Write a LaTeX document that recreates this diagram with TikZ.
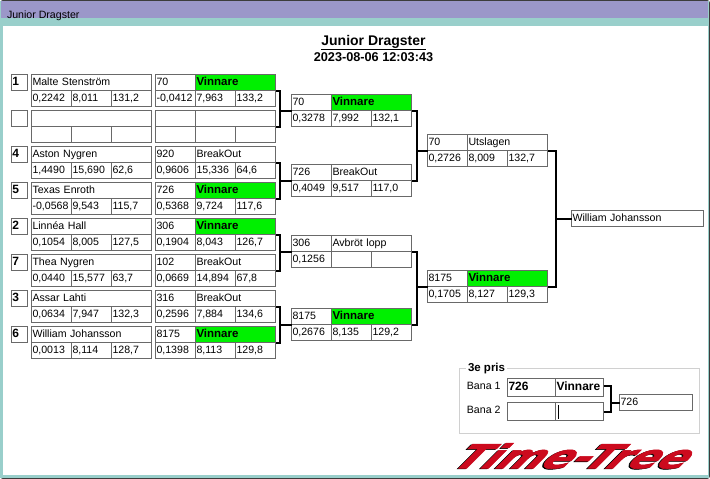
\documentclass[tikz,border=0pt]{standalone}
\usepackage{fontspec}
\setmainfont{Liberation Sans}
\newfontfamily\logofont[BoldFeatures={FakeBold=1.5}]{DejaVu Sans}
\usepackage{tikz}
\usetikzlibrary{positioning}
\definecolor{winpurple}{HTML}{9B97C9}
\definecolor{winteal}{HTML}{99CFCB}
\definecolor{winedge}{HTML}{3C3C3C}
\definecolor{cellgrey}{HTML}{696969}
\definecolor{groupgrey}{HTML}{D0D0D0}
\definecolor{wingreen}{HTML}{00F000}
\definecolor{logored}{HTML}{CC0A1E}
\tikzset{
    every node/.style={font=\fontsize{10.6}{12}\selectfont},
    cell/.style={draw=cellgrey,line width=1pt,outer sep=0pt,inner xsep=1pt,inner ysep=0pt,
        text width=38pt,minimum height=16pt,text height=8pt,text depth=2pt,align=left},
    namecell/.style={cell,text width=118pt},
    statcell/.style={cell,text width=78pt},
    wincell/.style={statcell,fill=wingreen,font=\fontsize{11.5}{12}\selectfont\bfseries},
    seedbox/.style={cell,text width=14pt,font=\fontsize{12}{12}\selectfont\bfseries},
    finalcell/.style={cell,text width=130pt},
    banacell/.style={cell,text width=46pt,minimum height=18pt,font=\fontsize{12}{12}\selectfont\bfseries},
    thirdcell/.style={cell,text width=70.5pt},
    bracket/.style={draw=black,line width=2pt},
    plaintext/.style={inner sep=0pt,outer sep=0pt},
    logotext/.style={inner sep=0pt,font=\fontsize{33}{33}\selectfont\logofont\bfseries,
        xslant=1,xscale=1.3,transform shape}
}
% seed, driver name and the three times
\newcommand{\driverrow}[7]{%
    \node[seedbox,anchor=north west] (#1-seed) at (11.5,#2) {#3};
    \node[namecell,anchor=north west] (#1-name) at (31.5,#2) {#4};
    \node[cell,anchor=north west] (#1-rt) at (31.5,#2+16) {#5};
    \node[cell,right=0pt of #1-rt] (#1-et) {#6};
    \node[cell,right=0pt of #1-et] (#1-sp) {#7};
}
% one run: number, status and the three times
\newcommand{\heat}[8]{%
    \node[cell,anchor=north west] (#1-id) at (#2) {#3};
    \node[#4,right=0pt of #1-id] (#1-st) {#5};
    \node[cell,below=0pt of #1-id] (#1-rt) {#6};
    \node[cell,right=0pt of #1-rt] (#1-et) {#7};
    \node[cell,right=0pt of #1-et] (#1-sp) {#8};
}
\begin{document}
\begin{tikzpicture}[x=1pt,y=-1pt]
    \useasboundingbox (0,0) rectangle (710,479);
    % window
    \fill[winedge,rounded corners=3pt] (0,0) rectangle (710,479);
    \fill[winteal] (0,1) rectangle (709,478);
    \fill[winpurple] (1,1) rectangle (708,18);
    \fill[white] (2.5,26) rectangle (708,475);
    \node[plaintext,anchor=west] (wintitle) at (7,15.5) {Junior Dragster};
    \node[plaintext,font=\fontsize{14}{14}\selectfont\bfseries] (title) at (373.5,42.5) {\underline{Junior Dragster}};
    \node[plaintext,font=\fontsize{12.7}{13}\selectfont\bfseries] (stamp) at (373.5,57) {2023-08-06 12:03:43};

    % first round
    \driverrow{a}{74.5}{1}{Malte Stenström}{0,2242}{8,011}{131,2}
    \heat{ah}{155.5,74.5}{70}{wincell}{Vinnare}{-0,0412}{7,963}{133,2}
    \driverrow{b}{110.5}{}{}{}{}{}
    \heat{bh}{155.5,110.5}{}{statcell}{}{}{}{}
    \driverrow{c}{146.5}{4}{Aston Nygren}{1,4490}{15,690}{62,6}
    \heat{ch}{155.5,146.5}{920}{statcell}{BreakOut}{0,9606}{15,336}{64,6}
    \driverrow{d}{182.5}{5}{Texas Enroth}{-0,0568}{9,543}{115,7}
    \heat{dh}{155.5,182.5}{726}{wincell}{Vinnare}{0,5368}{9,724}{117,6}
    \driverrow{e}{218.5}{2}{Linnéa Hall}{0,1054}{8,005}{127,5}
    \heat{eh}{155.5,218.5}{306}{wincell}{Vinnare}{0,1904}{8,043}{126,7}
    \driverrow{f}{254.5}{7}{Thea Nygren}{0,0440}{15,577}{63,7}
    \heat{fh}{155.5,254.5}{102}{statcell}{BreakOut}{0,0669}{14,894}{67,8}
    \driverrow{g}{290.5}{3}{Assar Lahti}{0,0634}{7,947}{132,3}
    \heat{gh}{155.5,290.5}{316}{statcell}{BreakOut}{0,2596}{7,884}{134,6}
    \driverrow{h}{326.5}{6}{William Johansson}{0,0013}{8,114}{128,7}
    \heat{hh}{155.5,326.5}{8175}{wincell}{Vinnare}{0,1398}{8,113}{129,8}

    % quarter finals
    \heat{qa}{291.5,94.5}{70}{wincell}{Vinnare}{0,3278}{7,992}{132,1}
    \heat{qb}{291.5,164.5}{726}{statcell}{BreakOut}{0,4049}{9,517}{117,0}
    \heat{qc}{291.5,235.5}{306}{statcell}{Avbröt lopp}{0,1256}{}{}
    \heat{qd}{291.5,308.5}{8175}{wincell}{Vinnare}{0,2676}{8,135}{129,2}

    % semi finals and final
    \heat{sa}{427.5,134.5}{70}{statcell}{Utslagen}{0,2726}{8,009}{132,7}
    \heat{sb}{427.5,270.5}{8175}{wincell}{Vinnare}{0,1705}{8,127}{129,3}
    \node[finalcell,anchor=north west] (winner) at (571.5,210.5) {William Johansson};

    % brackets
    \coordinate (ja) at ([xshift=4pt]ah-st.south east);
    \coordinate (jb) at ([xshift=4pt]ch-st.south east);
    \coordinate (jc) at ([xshift=4pt]eh-st.south east);
    \coordinate (jd) at ([xshift=4pt]gh-st.south east);
    \coordinate (je) at ([xshift=5pt]qa-st.south east);
    \coordinate (jf) at ([xshift=5pt]qc-st.south east);
    \coordinate (jg) at ([xshift=8pt]sa-st.south east);
    \draw[bracket] (ah-st.south east)--(ja)|-(bh-st.south east);
    \draw[bracket] (qa-id.south west)--(qa-id.south west -| ja);
    \draw[bracket] (ch-st.south east)--(jb)|-(dh-st.south east);
    \draw[bracket] (qb-id.south west)--(qb-id.south west -| jb);
    \draw[bracket] (eh-st.south east)--(jc)|-(fh-st.south east);
    \draw[bracket] (qc-id.south west)--(qc-id.south west -| jc);
    \draw[bracket] (gh-st.south east)--(jd)|-(hh-st.south east);
    \draw[bracket] (qd-id.south west)--(qd-id.south west -| jd);
    \draw[bracket] (qa-st.south east)--(je)|-(qb-st.south east);
    \draw[bracket] (sa-id.south west)--(sa-id.south west -| je);
    \draw[bracket] (qc-st.south east)--(jf)|-(qd-st.south east);
    \draw[bracket] (sb-id.south west)--(sb-id.south west -| jf);
    \draw[bracket] (sa-st.south east)--(jg)|-(sb-st.south east);
    \draw[bracket] (winner.west)--(winner.west -| jg);

    % third place
    \node[draw=groupgrey,line width=1pt,outer sep=0pt,inner sep=0pt,minimum width=240pt,minimum height=64.5pt,anchor=north west] (prisgroup) at (459.5,368.5) {};
    \node[plaintext,fill=white,inner xsep=2pt,anchor=west,font=\fontsize{11.5}{12}\selectfont\bfseries] (pristitle) at (466,368.5) {3e pris};
    \node[banacell,anchor=north west] (bana1-id) at (507.5,378.5) {726};
    \node[banacell,right=0pt of bana1-id] (bana1-st) {Vinnare};
    \node[banacell,anchor=north west] (bana2-id) at (507.5,402.5) {};
    \node[banacell,right=0pt of bana2-id] (bana2-st) {};
    \node[plaintext,anchor=east] (bana1) at ([xshift=-7pt,yshift=2pt]bana1-id.west) {Bana 1};
    \node[plaintext,anchor=east] (bana2) at ([xshift=-7pt,yshift=2pt]bana2-id.west) {Bana 2};
    \node[fill=black,inner sep=0pt,outer sep=0pt,minimum width=1pt,minimum height=14pt,anchor=west] (cursor) at ([xshift=2pt]bana2-st.west) {};
    \node[thirdcell,anchor=north west] (third) at (619.5,394.5) {726};
    \coordinate (jh) at ([xshift=7pt]bana1-st.east);
    \draw[bracket] ([yshift=2pt]bana1-st.east)--([yshift=2pt]jh)|-(bana2-st.east);
    \draw[bracket] (third.west)--(third.west -| jh);

    % logo
    \node[logotext,text=black] (logoshade) at (575.5,456.6) {Time-Tree};
    \node[logotext,text=logored] (logo) at (577,456) {Time-Tree};
\end{tikzpicture}
\end{document}
